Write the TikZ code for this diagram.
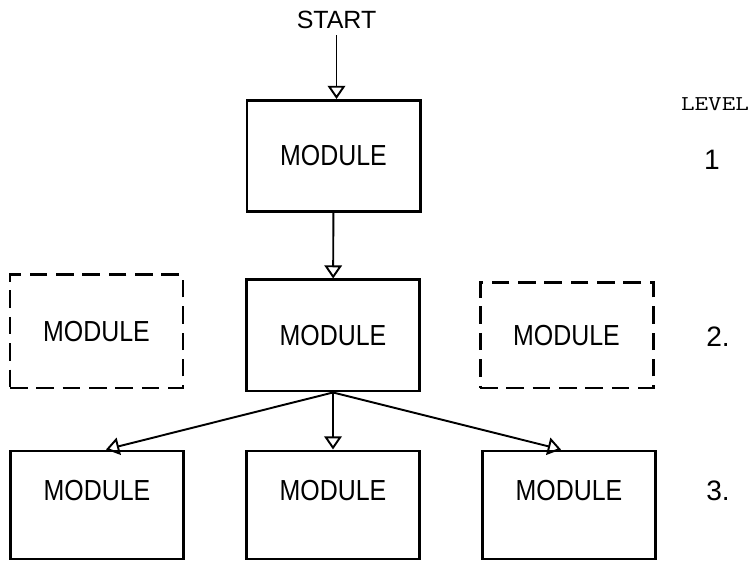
\documentclass[tikz,border=0pt]{standalone}
\usepackage{fontspec}
\usepackage{graphicx}
\usetikzlibrary{arrows.meta}

\newfontfamily\modfont[FakeStretch=0.86]{Liberation Sans}
\newfontfamily\lvlfont{Liberation Sans}

\tikzset{
	module/.style={draw, line width=1.7pt, minimum width=3.46cm, minimum height=2.22cm,
		font=\modfont\fontsize{16.5}{18}\selectfont},
	ghost/.style={module, dash pattern=on 10pt off 5pt},
	flow/.style={line width=1.1pt, arrows={-Triangle[open, length=7.5pt, width=10pt]}},
	lvl/.style={font=\lvlfont\fontsize{16}{18}\selectfont}
}

\begin{document}
\begin{tikzpicture}
	\useasboundingbox (0, 0) rectangle (15.02, 11.24);

	% level 1
	\node [font=\lvlfont\fontsize{14.2}{16}\selectfont] (S) at (6.73, 10.84) {START};
	\node [module] (M1) at (6.67, 8.12) {MODULE};

	% level 2
	\node [module] (M2) at (6.66, 4.53) {MODULE};
	\node [ghost, minimum height=2.26cm] (G1) at (1.93, 4.61) {MODULE};
	\node [ghost, minimum height=2.10cm] (G2) at (11.33, 4.53) {MODULE};

	% level 3
	\node [module, minimum height=2.16cm, text depth=0.6cm] (L1) at (1.94, 1.14) {MODULE};
	\node [module, minimum height=2.16cm, text depth=0.6cm] (L2) at (6.66, 1.14) {MODULE};
	\node [module, minimum height=2.16cm, text depth=0.6cm] (L3) at (11.38, 1.14) {MODULE};

	\draw [flow] (S) -- (S |- M1.north);
	\draw [flow] (M1) -- (M2);
	\draw [flow] (M2.south) -- ([xshift=0.18cm]L1.north);
	\draw [flow] (M2.south) -- (L2);
	\draw [flow] (M2.south) -- ([xshift=-0.16cm]L3.north);

	% level numbers
	\node [font=\ttfamily\fontsize{12}{14}\selectfont] (LV) at (14.3, 9.16) {\scalebox{1.25}[1]{LEVEL}};
	\node [lvl] (N1) at (14.24, 8.04) {1};
	\node [lvl] (N2) at (14.36, 4.5) {2.};
	\node [lvl] (N3) at (14.36, 1.42) {3.};
\end{tikzpicture}
\end{document}
